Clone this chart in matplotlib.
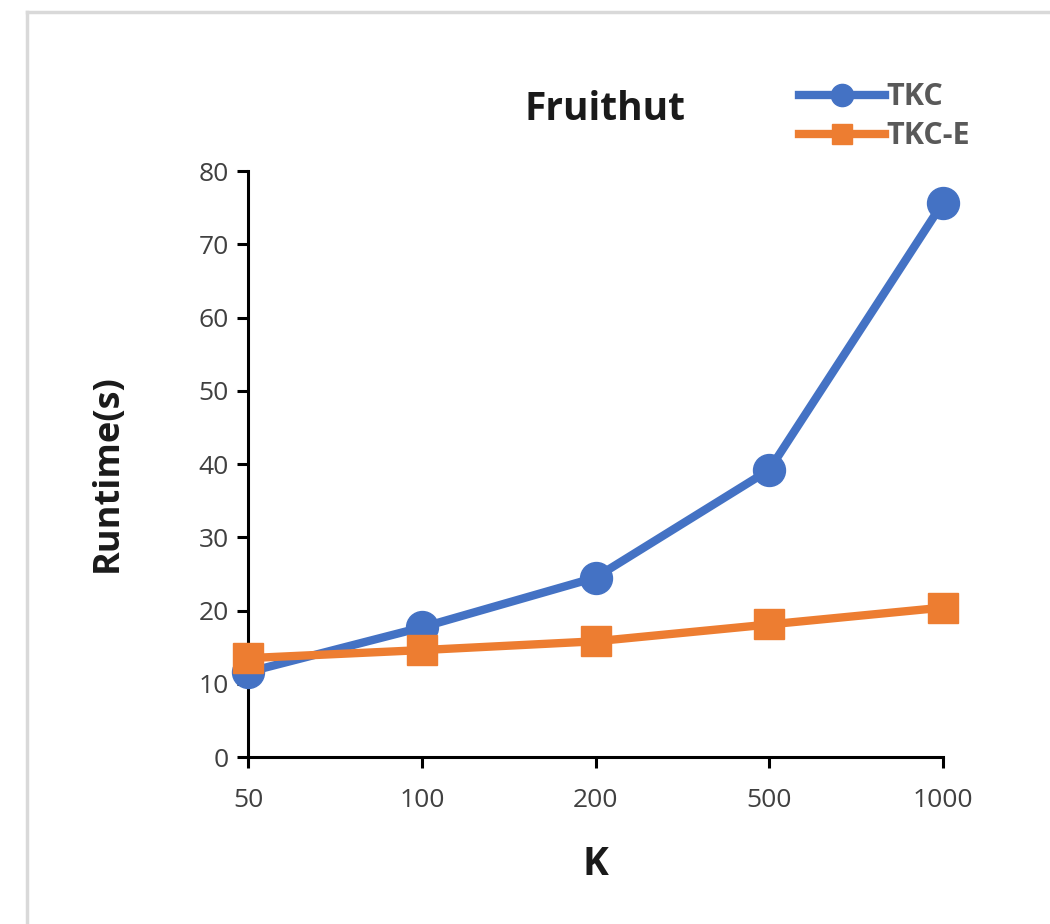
import matplotlib
matplotlib.use("Agg")
from matplotlib import pyplot as plt
from matplotlib.lines import Line2D

k_labels = ["50", "100", "200", "500", "1000"]
tkc = [11.6, 17.7, 24.5, 39.2, 75.7]
tkc_e = [13.5, 14.6, 15.8, 18.1, 20.4]

plt.rcParams['font.family'] = ['Open Sans', 'DejaVu Sans']

fig = plt.figure(figsize=(10.5, 9.24), dpi=100)
ax = fig.add_axes([0.2362, 0.1807, 0.6619, 0.6342])

x = list(range(len(k_labels)))
ax.plot(x, tkc, color="#4472C4", lw=6, marker="o", ms=23, label="TKC",
        solid_capstyle="round", zorder=3, clip_on=False)
ax.plot(x, tkc_e, color="#ED7D31", lw=6, marker="s", ms=21, label="TKC-E",
        zorder=4, clip_on=False)

ax.set_xlim(0, 4)
ax.set_ylim(0, 80)
ax.set_xticks(x)
ax.set_xticklabels(k_labels)
ax.set_yticks(range(0, 81, 10))
ax.tick_params(axis="both", labelsize=19, colors="black", labelcolor="#404040",
               width=2.2, length=8)
ax.tick_params(axis="x", pad=14)
ax.tick_params(axis="y", pad=6)
for s in ["top", "right"]:
    ax.spines[s].set_visible(False)
for s in ["left", "bottom"]:
    ax.spines[s].set_linewidth(2.2)
    ax.spines[s].set_clip_on(False)

ax.set_xlabel("K", fontsize=28, fontweight="bold", color="#1a1a1a", va="center")
ax.xaxis.set_label_coords(0.5, -0.184)
ax.set_ylabel("Runtime(s)", fontsize=26, fontweight="bold", color="#1a1a1a", va="center")
ax.yaxis.set_label_coords(-0.2014, 0.485)
fig.text(0.576, 0.881, "Fruithut", fontsize=28, fontweight="bold", color="#1a1a1a",
         ha="center", va="center")

handles = [Line2D([], [], color="#4472C4", lw=6, marker="o", ms=16),
           Line2D([], [], color="#ED7D31", lw=6, marker="s", ms=15)]
leg = fig.legend(handles, ["TKC", "TKC-E"], loc="upper left",
                 bbox_to_anchor=(0.761, 0.911), borderpad=0, borderaxespad=0,
                 frameon=False, handlelength=2.8, handletextpad=0.05, labelspacing=0.3,
                 prop={"size": 22, "weight": "bold"})
for t in leg.get_texts():
    t.set_color("#595959")

# light gray frame around the chart area
fig.add_artist(Line2D([0.026, 1.0], [0.987, 0.987], color="#d9d9d9", lw=2.5))
fig.add_artist(Line2D([0.026, 0.026], [0.0, 0.987], color="#d9d9d9", lw=2.5))

fig.savefig("out.png", dpi=100)
